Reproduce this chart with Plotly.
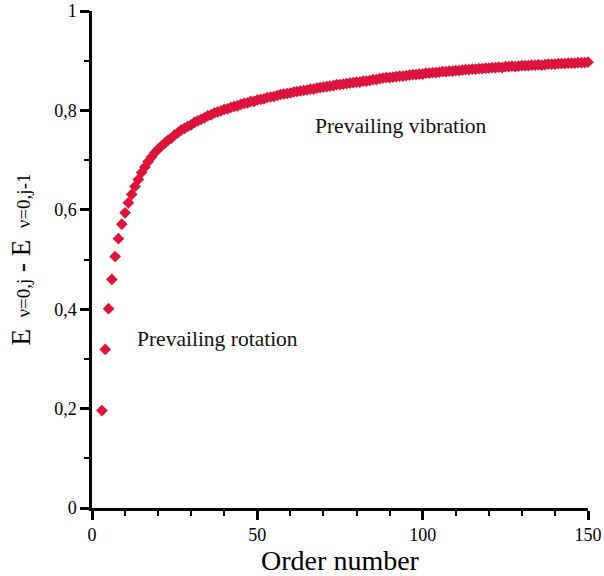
import plotly.graph_objects as go

order_number = list(range(3, 151))

energy_diff = [
    0.196, 0.319, 0.401, 0.460, 0.506, 0.542, 0.571, 0.594, 0.614, 0.631,  # 3-12
    0.647, 0.661, 0.675, 0.686, 0.697, 0.706, 0.715, 0.722, 0.728, 0.734,  # 13-22
    0.740, 0.744, 0.751, 0.755, 0.761, 0.764, 0.768, 0.771, 0.776, 0.779,  # 23-32
    0.782, 0.785, 0.789, 0.791, 0.795, 0.797, 0.799, 0.802, 0.803, 0.806,  # 33-42
    0.808, 0.809, 0.812, 0.814, 0.815, 0.818, 0.818, 0.821, 0.822, 0.823,  # 43-52
    0.826, 0.827, 0.828, 0.830, 0.832, 0.833, 0.834, 0.835, 0.837, 0.838,  # 53-62
    0.839, 0.840, 0.841, 0.843, 0.843, 0.845, 0.846, 0.847, 0.848, 0.849,  # 63-72
    0.850, 0.852, 0.852, 0.853, 0.854, 0.855, 0.856, 0.857, 0.857, 0.859,  # 73-82
    0.859, 0.860, 0.862, 0.862, 0.864, 0.865, 0.866, 0.866, 0.867, 0.868,  # 83-92
    0.869, 0.869, 0.870, 0.871, 0.872, 0.872, 0.873, 0.873, 0.875, 0.875,  # 93-102
    0.876, 0.876, 0.877, 0.878, 0.878, 0.879, 0.879, 0.880, 0.880, 0.881,  # 103-112
    0.882, 0.882, 0.883, 0.883, 0.884, 0.884, 0.885, 0.885, 0.886, 0.886,  # 113-122
    0.887, 0.886, 0.888, 0.888, 0.889, 0.888, 0.889, 0.890, 0.890, 0.890,  # 123-132
    0.891, 0.891, 0.892, 0.891, 0.892, 0.893, 0.893, 0.893, 0.894, 0.894,  # 133-142
    0.894, 0.895, 0.895, 0.895, 0.896, 0.896, 0.896, 0.897,                # 143-150
]

x_ticks = [0, 50, 100, 150]
y_ticks = [0, 0.2, 0.4, 0.6, 0.8, 1]

FONT = "Liberation Serif, Times New Roman, serif"
RED = "#DC143C"

fig = go.Figure()
fig.add_trace(go.Scatter(
    x=order_number, y=energy_diff, mode="markers",
    marker=dict(symbol="diamond", size=9, color=RED, line=dict(width=0)),
    cliponaxis=False, showlegend=False,
))

fig.update_layout(
    width=604, height=576,
    margin=dict(l=92, r=16, t=11, b=68, autoexpand=False),
    plot_bgcolor="white", paper_bgcolor="white",
    separators=", ",
    font=dict(family=FONT, color="black"),
    xaxis=dict(
        range=[0, 150], tickmode="array", tickvals=x_ticks,
        showgrid=False, zeroline=False, automargin=False,
        showline=True, linecolor="black", linewidth=2.5,
        ticks="outside", ticklen=9, tickwidth=3, tickcolor="black",
        minor=dict(dtick=10, ticks="outside", ticklen=5, tickwidth=2, tickcolor="black"),
        tickfont=dict(size=18, family=FONT),
        ticklabeloverflow="allow",
        title=dict(text="Order number", font=dict(size=28, family=FONT), standoff=4),
    ),
    yaxis=dict(
        range=[0, 1], tickmode="array", tickvals=y_ticks,
        showgrid=False, zeroline=False, automargin=False,
        showline=True, linecolor="black", linewidth=2.5,
        ticks="outside", ticklen=9, tickwidth=3, tickcolor="black",
        minor=dict(dtick=0.1, ticks="outside", ticklen=5, tickwidth=2, tickcolor="black"),
        tickfont=dict(size=18, family=FONT),
        ticklabeloverflow="allow",
        title=dict(
            text="E <span style='font-size:19px'> ν=0,j</span> - E <span style='font-size:19px'> ν=0,j-1</span>",
            font=dict(size=27, family=FONT), standoff=16,
        ),
    ),
    annotations=[
        dict(x=66.8, y=0.769, xref="x", yref="y", text="Prevailing vibration",
             showarrow=False, xanchor="left", yanchor="middle",
             font=dict(size=21.5, family=FONT, color="#111")),
        dict(x=13.1, y=0.341, xref="x", yref="y", text="Prevailing rotation",
             showarrow=False, xanchor="left", yanchor="middle",
             font=dict(size=21.5, family=FONT, color="#111")),
    ],
)

fig.write_html("out.html")
